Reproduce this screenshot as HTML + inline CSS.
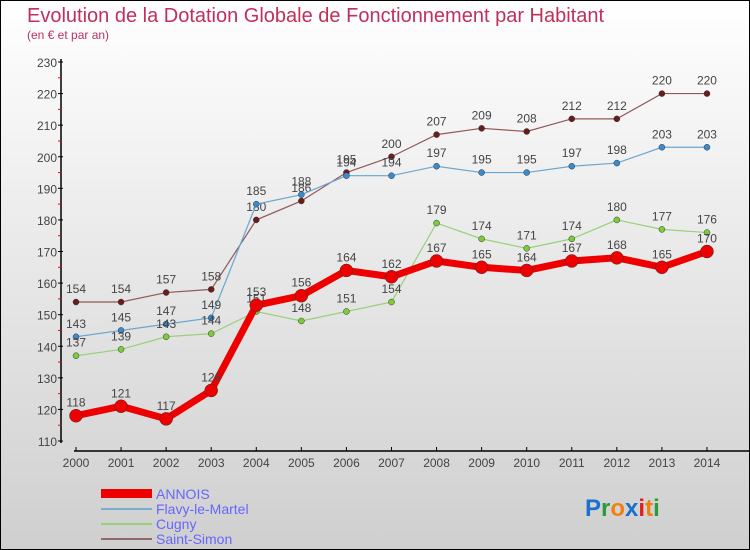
<!DOCTYPE html>
<html><head><meta charset="utf-8"><style>
body{margin:0}
#wrap{position:relative;width:748px;height:548px;border:1px solid #000;background:linear-gradient(#fff,#cfcfcf);font-family:"Liberation Sans",sans-serif;overflow:hidden}
</style></head><body>
<div id="wrap">
<svg id="chart" width="748" height="548">
<text x="26" y="21" font-size="20" fill="#c0305a">Evolution de la Dotation Globale de Fonctionnement par Habitant</text>
<text x="26" y="38" font-size="12" fill="#c0305a">(en € et par an)</text>
<g id="axes"></g><g id="series"></g>
<g>
<rect x="100" y="488" width="51" height="9" fill="#e00"/>
<text x="155" y="498" font-size="14" fill="#6666ff">ANNOIS</text>
<rect x="100" y="507" width="51" height="2" fill="#7aaed0"/>
<text x="155" y="513" font-size="14" fill="#6666ff">Flavy-le-Martel</text>
<rect x="100" y="522" width="51" height="2" fill="#9ad07a"/>
<text x="155" y="528" font-size="14" fill="#6666ff">Cugny</text>
<rect x="100" y="537" width="51" height="2" fill="#906a6a"/>
<text x="155" y="543" font-size="14" fill="#6666ff">Saint-Simon</text>
</g>
<g font-size="24" font-weight="bold">
<text x="584" y="515"><tspan fill="#1a6fd0">P</tspan><tspan fill="#2a9a3a">r</tspan><tspan fill="#f08010">o</tspan><tspan fill="#1a6fd0">x</tspan><tspan fill="#e02020">i</tspan><tspan fill="#f08010">t</tspan><tspan fill="#2a9a3a">i</tspan></text>
</g>
</svg>
</div>
<script>
const years=[2000,2001,2002,2003,2004,2005,2006,2007,2008,2009,2010,2011,2012,2013,2014];
const annois=[118,121,117,126,153,156,164,162,167,165,164,167,168,165,170];
const flavy=[143,145,147,149,185,188,194,194,197,195,195,197,198,203,203];
const cugny=[137,139,143,144,151,148,151,154,179,174,171,174,180,177,176];
const saintSimon=[154,154,157,158,180,186,195,200,207,209,208,212,212,220,220];
const yTicks=[110,120,130,140,150,160,170,180,190,200,210,220,230];
const NS='http://www.w3.org/2000/svg';
const x=i=>75+i*45.07;
const y=v=>440-(v-110)*379/120;
function mk(t,a,p){const e=document.createElementNS(NS,t);for(const k in a)e.setAttribute(k,a[k]);p.appendChild(e);return e;}
const ax=document.getElementById('axes');
const ya=mk('line',{x1:60,y1:58,x2:60,y2:442,stroke:'#000','stroke-width':1.5},ax);


const xa=mk('line',{x1:73,y1:450,x2:748,y2:450,stroke:'#000','stroke-width':1.5},ax);


yTicks.forEach(v=>{
  mk('line',{x1:57,x2:62,y1:y(v),y2:y(v),stroke:'#000'},ax);
  if(v<230) mk('line',{x1:57,x2:60,y1:y(v+5),y2:y(v+5),stroke:'#f00'},ax);
  const t=mk('text',{x:56,y:y(v)+5,'text-anchor':'end','font-size':12,fill:'#444'},ax);
  t.textContent=v;
  
  
});
years.forEach((yr,i)=>{
  mk('line',{x1:x(i),x2:x(i),y1:446,y2:450,stroke:'#000'},ax);
  const t=mk('text',{x:x(i),y:466,'text-anchor':'middle','font-size':12,fill:'#444'},ax);
  t.textContent=yr;
  
  
});
const sg=document.getElementById('series');
function series(data,color,dot,w,r,name){
  const g=mk('g',{},sg);
  
  
  const pl=mk('polyline',{points:data.map((v,i)=>x(i)+','+y(v)).join(' '),fill:'none',stroke:color,'stroke-width':w},g);
  
  
  data.forEach((v,i)=>{
    const c=mk('circle',{cx:x(i),cy:y(v),r:r,fill:dot,stroke:'#333','stroke-width':0.5},g);
    
    
    const t=mk('text',{x:x(i),y:y(v)-9,'text-anchor':'middle','font-size':12,fill:'#444'},g);
    t.textContent=v;
    
    
  });
}
series(saintSimon,'#905858','#6a1c1c',1.2,3,'saint-simon');
series(flavy,'#6aa6d0','#3a8ad0',1.2,3,'flavy-le-martel');
series(cugny,'#9ad07a','#7acc3a',1.2,3,'cugny');
series(annois,'#e00','#e00',7,6.5,'annois');
</script>
</body></html>
